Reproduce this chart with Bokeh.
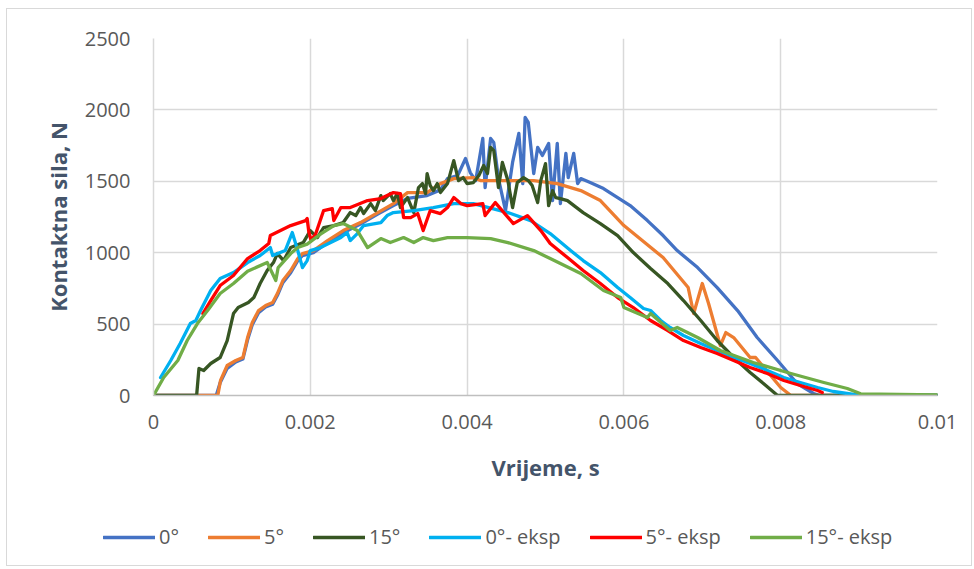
from bokeh.plotting import figure
from bokeh.layouts import column
from bokeh.models import (Range1d, FixedTicker, CustomJSTickFormatter, Legend, LegendItem)
from bokeh.embed import file_html
from bokeh.resources import INLINE

# ---- data (time in s, contact force in N) ----
t_0 = [0, 0.0008, 0.00085, 0.00094, 0.00105, 0.00114, 0.0012, 0.00126, 0.00134, 0.00143,
       0.00152, 0.00158, 0.00165, 0.00175, 0.00184, 0.0019, 0.00204, 0.00222, 0.00242, 0.00264,
       0.00286, 0.00306, 0.00324, 0.00349, 0.00366, 0.00375, 0.00388, 0.00398, 0.00404, 0.00411,
       0.0042, 0.00423, 0.0043, 0.00434, 0.0044, 0.00449, 0.00458, 0.00466, 0.00471, 0.00474,
       0.00478, 0.00485, 0.0049, 0.00496, 0.00504, 0.00509, 0.00515, 0.00519, 0.00526, 0.00529,
       0.00536, 0.00541, 0.00545, 0.00557, 0.00574, 0.00592, 0.00608, 0.0063, 0.0065, 0.00668,
       0.00694, 0.00719, 0.00745, 0.0077, 0.00796, 0.00821, 0.00842, 0.0085, 0.01]
f_0 = [0, 0, 90, 190, 235, 255, 390, 495, 580, 620,
       640, 700, 790, 860, 945, 980, 1000, 1070, 1140, 1200,
       1270, 1330, 1380, 1400, 1440, 1519, 1540, 1660, 1561, 1505,
       1800, 1456, 1800, 1772, 1519, 1295, 1632, 1835, 1484, 1947,
       1912, 1554, 1737, 1681, 1765, 1365, 1765, 1344, 1695, 1526,
       1695, 1484, 1519, 1491, 1449, 1386, 1330, 1225, 1120, 1015,
       896, 756, 595, 406, 245, 84, 14, 0, 0]

t_5 = [0, 0.00056, 0.00082, 0.000855, 0.00094, 0.00105, 0.00114, 0.0012, 0.00126, 0.00134,
       0.00143, 0.00152, 0.00158, 0.00165, 0.00175, 0.00184, 0.0019, 0.00204, 0.00222, 0.00242,
       0.00264, 0.00286, 0.00306, 0.00324, 0.00349, 0.00366, 0.00383, 0.00408, 0.00417, 0.00452,
       0.00485, 0.00515, 0.00545, 0.0057, 0.006, 0.0065, 0.00682, 0.00689, 0.007, 0.00708,
       0.00723, 0.0073, 0.0074, 0.00761, 0.00768, 0.008, 0.00813, 0.01]
f_5 = [0, 0, 0, 105, 210, 245, 266, 406, 511, 595,
       630, 651, 714, 805, 875, 959, 994, 1015, 1085, 1155,
       1211, 1281, 1344, 1421, 1421, 1484, 1519, 1526, 1505, 1505,
       1505, 1484, 1435, 1365, 1190, 966, 756, 574, 784, 644,
       350, 441, 406, 266, 266, 56, 0, 0]

t_15 = [0, 0.00055, 0.00058, 0.00064, 0.00073, 0.00085, 0.00094, 0.00102, 0.00108, 0.00121,
        0.00128, 0.00136, 0.00145, 0.00153, 0.00158, 0.00166, 0.00175, 0.00191, 0.002, 0.00209,
        0.00217, 0.0023, 0.00242, 0.00251, 0.00258, 0.00264, 0.00268, 0.00277, 0.00283, 0.0029,
        0.00293, 0.00302, 0.00306, 0.00311, 0.00315, 0.00324, 0.00332, 0.00338, 0.00343, 0.00347,
        0.00349, 0.00353, 0.00357, 0.00362, 0.00366, 0.00375, 0.00383, 0.00389, 0.00395, 0.004,
        0.00408, 0.00415, 0.00421, 0.00426, 0.0043, 0.00434, 0.0044, 0.00445, 0.00452, 0.00458,
        0.00464, 0.00472, 0.00478, 0.00483, 0.0049, 0.00494, 0.005, 0.00504, 0.00509, 0.00513,
        0.00519, 0.00528, 0.00548, 0.0057, 0.00592, 0.00612, 0.00634, 0.00656, 0.00676, 0.00698,
        0.00719, 0.0074, 0.00761, 0.00778, 0.00796, 0.01]
f_15 = [0, 0, 189, 175, 224, 266, 385, 574, 616, 651,
        686, 784, 875, 931, 994, 945, 1036, 1071, 1155, 1106,
        1176, 1190, 1211, 1281, 1260, 1316, 1274, 1344, 1295, 1400,
        1365, 1414, 1365, 1414, 1316, 1386, 1281, 1456, 1484, 1414,
        1554, 1470, 1435, 1484, 1421, 1484, 1645, 1505, 1526, 1484,
        1491, 1540, 1610, 1554, 1737, 1715, 1456, 1632, 1505, 1316,
        1491, 1526, 1505, 1470, 1351, 1505, 1624, 1330, 1435, 1386,
        1379, 1365, 1281, 1204, 1120, 1001, 889, 784, 665, 525,
        385, 266, 161, 84, 0, 0]

t_0e = [0.00009, 0.00022, 0.00034, 0.00047, 0.00054, 0.0006, 0.00073, 0.00085, 0.00102, 0.0012,
        0.00136, 0.00149, 0.00152, 0.00168, 0.00177, 0.00184, 0.0019, 0.00196, 0.002, 0.00213,
        0.00239, 0.00247, 0.00251, 0.0026, 0.00268, 0.0029, 0.00298, 0.00306, 0.00332, 0.00357,
        0.00383, 0.00408, 0.00452, 0.00481, 0.00506, 0.00532, 0.00548, 0.0057, 0.00592, 0.00608,
        0.00625, 0.00634, 0.00647, 0.00659, 0.00676, 0.00698, 0.00719, 0.0074, 0.00761, 0.00783,
        0.00804, 0.00825, 0.00847, 0.00867, 0.00902, 0.01]
f_0e = [126, 245, 364, 504, 525, 595, 735, 819, 861, 931,
        980, 1036, 980, 1015, 1141, 1015, 896, 945, 1015, 1036,
        1106, 1141, 1085, 1134, 1190, 1211, 1260, 1281, 1295, 1316,
        1344, 1344, 1281, 1225, 1134, 1015, 945, 861, 756, 686,
        609, 595, 525, 476, 420, 364, 315, 266, 224, 175,
        126, 91, 56, 28, 0, 0]

t_5e = [0.00063, 0.00073, 0.00085, 0.00102, 0.0012, 0.00136, 0.00147, 0.00149, 0.00175, 0.00194,
        0.00196, 0.00198, 0.00201, 0.00207, 0.00217, 0.00228, 0.0023, 0.00239, 0.00251, 0.00273,
        0.0029, 0.00306, 0.00315, 0.00319, 0.00328, 0.00337, 0.00344, 0.00353, 0.00366, 0.00375,
        0.00383, 0.00392, 0.004, 0.0042, 0.00423, 0.00436, 0.00459, 0.00477, 0.00494, 0.00506,
        0.00528, 0.00548, 0.0057, 0.00592, 0.00612, 0.00634, 0.00656, 0.00676, 0.00698, 0.00719,
        0.0074, 0.00761, 0.00783, 0.00804, 0.00825, 0.00847, 0.00853]
f_5e = [574, 665, 770, 840, 959, 1015, 1064, 1120, 1190, 1225,
        1239, 1150, 1085, 1134, 1295, 1309, 1225, 1316, 1316, 1365,
        1379, 1421, 1414, 1246, 1246, 1274, 1155, 1295, 1274, 1316,
        1386, 1344, 1330, 1344, 1260, 1351, 1204, 1260, 1155, 1064,
        966, 875, 784, 686, 616, 525, 455, 385, 336, 294,
        245, 196, 154, 105, 70, 35, 21]

t_15e = [0, 0.00013, 0.00031, 0.00043, 0.00056, 0.00069, 0.00085, 0.00102, 0.0012, 0.00145,
         0.00156, 0.00159, 0.00175, 0.00184, 0.00196, 0.00213, 0.0023, 0.00242, 0.0026, 0.00273,
         0.0029, 0.00302, 0.00319, 0.00332, 0.00344, 0.00357, 0.00375, 0.004, 0.0043, 0.00452,
         0.00485, 0.00506, 0.00545, 0.00574, 0.00596, 0.006, 0.0063, 0.00634, 0.00659, 0.00668,
         0.00694, 0.00723, 0.00765, 0.00813, 0.00855, 0.00885, 0.00902, 0.01]
f_15e = [0, 126, 245, 385, 504, 595, 714, 784, 870, 931,
         805, 896, 994, 1036, 1060, 1130, 1190, 1204, 1155, 1036,
         1099, 1071, 1106, 1071, 1106, 1085, 1106, 1106, 1099, 1071,
         1015, 959, 854, 735, 686, 616, 546, 574, 455, 476,
         406, 315, 231, 154, 91, 49, 12, 5]

series_names = ["0°", "5°", "15°", "0°- eksp", "5°- eksp", "15°- eksp"]
series_colors = ["#4472C4", "#ED7D31", "#375623", "#00B0F0", "#FF0000", "#70AD47"]
series_t = [t_0, t_5, t_15, t_0e, t_5e, t_15e]
series_f = [f_0, f_5, f_15, f_0e, f_5e, f_15e]

x_ticks = [0, 0.002, 0.004, 0.006, 0.008, 0.01]
y_ticks = [0, 500, 1000, 1500, 2000, 2500]

FONT = "Open Sans"
TICK_COLOR = "#595959"
TITLE_COLOR = "#44546A"
LINE_W = 3.3

# ---- main chart ----
p = figure(width=964, height=500, output_backend="svg", toolbar_location=None,
           x_range=Range1d(0, 0.01), y_range=Range1d(0, 2500),
           min_border_left=146, min_border_right=34, min_border_top=29, min_border_bottom=114)
p.outline_line_color = None
p.background_fill_color = "white"
p.border_fill_color = "white"

p.xaxis.ticker = FixedTicker(ticks=x_ticks)
p.yaxis.ticker = FixedTicker(ticks=y_ticks)
p.xaxis.formatter = CustomJSTickFormatter(
    code="return tick === 0 ? '0' : String(Math.round(tick * 1000) / 1000);")

for ax in (p.xaxis[0], p.yaxis[0]):
    ax.major_tick_out = 0
    ax.major_tick_in = 0
    ax.minor_tick_out = 0
    ax.minor_tick_in = 0
    ax.major_label_text_font = FONT
    ax.major_label_text_font_size = "20px"
    ax.major_label_text_color = TICK_COLOR
    ax.axis_label_text_font = FONT
    ax.axis_label_text_font_size = "22px"
    ax.axis_label_text_font_style = "bold"
    ax.axis_label_text_color = TITLE_COLOR

p.xaxis.axis_label = "Vrijeme, s"
p.yaxis.axis_label = "Kontaktna sila, N"
p.xaxis.axis_line_color = "#BFBFBF"
p.xaxis.axis_line_width = 1.5
p.yaxis.axis_line_color = "#D9D9D9"
p.yaxis.axis_line_width = 1.5
p.xaxis.major_label_standoff = 19
p.xaxis.axis_label_standoff = 20
p.yaxis.major_label_standoff = 23
p.yaxis.axis_label_standoff = 9

p.xgrid.ticker = FixedTicker(ticks=x_ticks)
p.ygrid.ticker = FixedTicker(ticks=y_ticks)
p.grid.grid_line_color = "#D9D9D9"
p.grid.grid_line_width = 1.5

for name, color, t, f in zip(series_names, series_colors, series_t, series_f):
    p.line(t, f, line_color=color, line_width=LINE_W, line_join="round", line_cap="round")

# ---- legend strip below the chart (its series lie outside its visible range) ----
lg = figure(width=964, height=56, output_backend="svg", toolbar_location=None,
            x_range=Range1d(-2, -1), y_range=Range1d(-2, -1),
            min_border_left=0, min_border_right=0, min_border_top=0, min_border_bottom=0)
if "frame_align" in lg.properties():
    lg.frame_align = False
lg.axis.visible = False
lg.grid.visible = False
lg.outline_line_color = None
lg.border_fill_color = "white"
lg.background_fill_color = "white"

items = []
for name, color, t, f in zip(series_names, series_colors, series_t, series_f):
    r = lg.line(t, f, line_color=color, line_width=LINE_W, line_cap="round")
    items.append(LegendItem(label=name, renderers=[r]))

legend = Legend(items=items, orientation="horizontal", location=(96, 15),
                glyph_width=52, glyph_height=20, label_standoff=4, spacing=29,
                label_text_font=FONT, label_text_font_size="20px",
                label_text_color=TICK_COLOR, padding=0, margin=0,
                border_line_color=None, background_fill_alpha=0)
lg.add_layout(legend)

layout = column(p, lg, spacing=0)
layout.styles = {"border": "1px solid #D9D9D9", "margin-left": "6px", "margin-top": "8px"}

open("out.html", "w").write(file_html(layout, INLINE))
